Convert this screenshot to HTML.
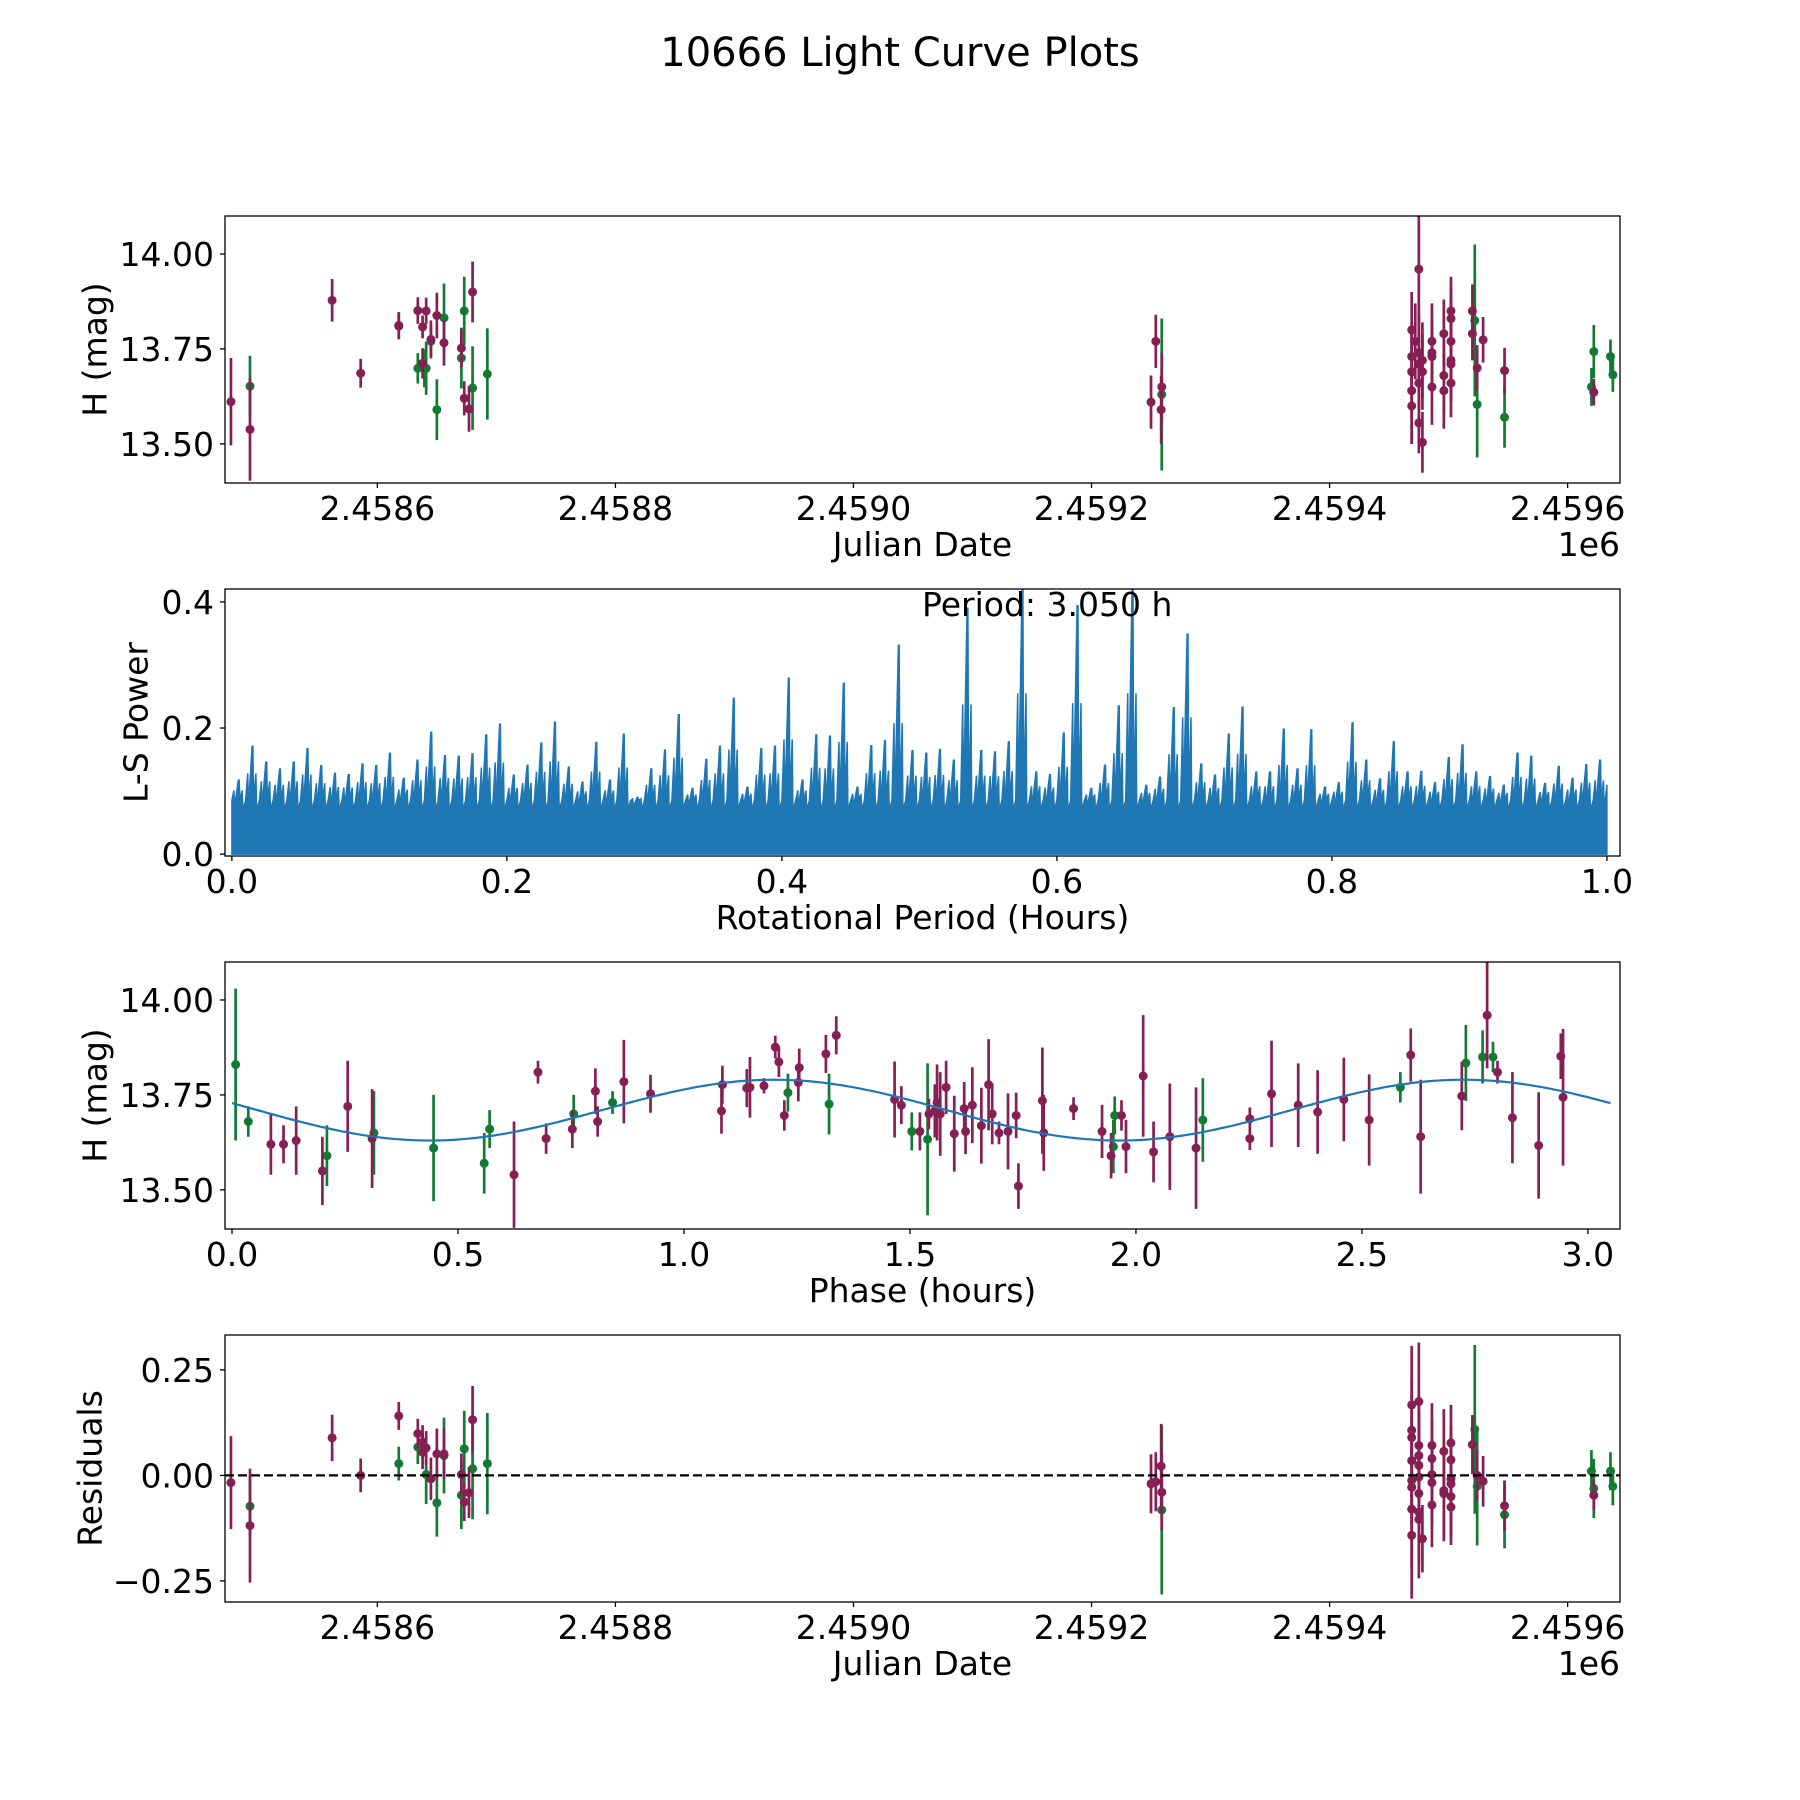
<!DOCTYPE html>
<html><head><meta charset="utf-8"><title>10666 Light Curve Plots</title>
<style>
html,body{margin:0;padding:0;background:#fff}
svg{display:block;font-family:"DejaVu Sans","Liberation Sans",sans-serif}
</style></head>
<body>
<svg id="fig" width="1800" height="1800" viewBox="0 0 1800 1800" xmlns="http://www.w3.org/2000/svg">
<rect x="0" y="0" width="1800" height="1800" fill="#fff"/>
<text x="900" y="66" font-size="40" text-anchor="middle">10666 Light Curve Plots</text>
<g id="p1"></g>
<g id="p2"></g>
<g id="p3"></g>
<g id="p4"></g>
</svg>
<script>
// ---------- DATA ----------
// Panel 1: Julian date offsets (days from 2458600), magnitudes, errors, filter
const lcDays = [-123,-107,-107,-38,-14,18,18,34,34,38,38,39.5,41,41,45,45,50,50,56,56,70.6,70.6,73,73,77,80,80,92.4,
 650,654,658.5,659,659,
 869,869,869,869,869,872,875,875,875,875,875,878,878,878,886,886,886,886,896,896,896,
 902,902,902,902,902,902,920,920,922,924,924,929,947,947,1020,1022,1022,1036,1038];
const lcMag = [13.611,13.652,13.538,13.878,13.686,13.81,13.812,13.851,13.699,13.712,13.808,13.699,13.85,13.699,13.77,13.775,13.59,13.838,13.832,13.766,13.726,13.752,13.85,13.62,13.592,13.647,13.90,13.684,
 13.61,13.77,13.59,13.65,13.63,
 13.80,13.73,13.69,13.64,13.60,13.77,13.96,13.74,13.71,13.66,13.555,13.72,13.69,13.504,13.77,13.74,13.73,13.65,13.79,13.68,13.64,
 13.85,13.83,13.77,13.72,13.71,13.66,13.85,13.79,13.825,13.70,13.604,13.774,13.693,13.57,13.65,13.743,13.636,13.73,13.682];
const lcErr = [0.115,0.08,0.135,0.056,0.038,0.035,0.035,0.035,0.04,0.04,0.03,0.05,0.035,0.07,0.04,0.05,0.08,0.06,0.09,0.06,0.08,0.05,0.09,0.045,0.06,0.11,0.08,0.12,
 0.07,0.07,0.09,0.09,0.2,
 0.1,0.09,0.12,0.14,0.1,0.1,0.14,0.1,0.12,0.13,0.08,0.1,0.1,0.08,0.1,0.09,0.08,0.1,0.09,0.1,0.1,
 0.09,0.08,0.1,0.09,0.1,0.09,0.07,0.07,0.2,0.06,0.14,0.06,0.06,0.08,0.05,0.07,0.035,0.045,0.045];
const lcFilt = "MGMMMGMMGMMGMGGMGMGMGMGMMGMG"+"MMMMG"+"MMMMMMMMMMMMMMMMMMMMM"+"MMMMMMMMGMGMMGGGMGG";

// Panel 2: Lomb-Scargle max power per 0.01 h bin, from 0.00 to 1.00 h
const lsBinPower = [0.117,0.171,0.146,0.135,0.146,0.167,0.14,0.128,0.126,0.143,
 0.14,0.16,0.12,0.149,0.193,0.156,0.155,0.159,0.189,0.206,
 0.125,0.141,0.176,0.209,0.138,0.114,0.177,0.117,0.19,0.09,
 0.135,0.165,0.221,0.104,0.15,0.171,0.247,0.106,0.167,0.171,
 0.279,0.117,0.189,0.187,0.271,0.106,0.172,0.18,0.331,0.164,
 0.16,0.166,0.149,0.39,0.164,0.162,0.178,0.425,0.13,0.126,
 0.192,0.394,0.104,0.141,0.235,0.425,0.109,0.122,0.232,0.349,
 0.143,0.125,0.19,0.233,0.13,0.13,0.198,0.135,0.197,0.106,
 0.113,0.208,0.149,0.119,0.178,0.13,0.131,0.113,0.153,0.173,
 0.13,0.123,0.109,0.16,0.155,0.112,0.139,0.12,0.142,0.149];
const lsFloor = [0.085];
const periodLabel = "Period: 3.050 h";

// Panel 3: phase (h), magnitude, error, filter
const phPhase = [0.008,0.036,0.086,0.114,0.142,0.2,0.21,0.256,0.31,0.314,0.446,0.558,0.57,0.624,0.677,0.695,0.753,0.756,0.804,0.809,0.842,0.867,0.926,
 1.083,1.085,1.139,1.146,1.177,1.202,1.21,1.222,1.23,1.253,1.255,1.314,1.321,1.337,1.466,1.481,1.504,1.522,1.539,1.542,1.555,1.56,1.567,1.58,1.598,
 1.62,1.623,1.638,1.658,1.674,1.682,1.697,1.717,1.735,1.74,1.793,1.796,1.862,1.925,1.945,1.95,1.953,1.968,1.978,2.016,2.039,2.075,2.133,2.148,
 2.252,2.252,2.3,2.359,2.402,2.46,2.516,2.585,2.608,2.63,2.721,2.73,2.767,2.777,2.79,2.8,2.833,2.891,2.94,2.945,2.95];
const phMag = [13.83,13.68,13.62,13.62,13.63,13.55,13.59,13.72,13.635,13.65,13.61,13.57,13.66,13.54,13.81,13.635,13.66,13.70,13.76,13.68,13.73,13.785,13.753,
 13.708,13.777,13.768,13.77,13.774,13.876,13.837,13.696,13.756,13.783,13.822,13.858,13.726,13.907,13.738,13.723,13.654,13.654,13.633,13.70,13.708,13.73,13.70,13.77,13.648,
 13.714,13.654,13.723,13.669,13.777,13.70,13.65,13.654,13.696,13.51,13.735,13.65,13.714,13.654,13.59,13.614,13.696,13.696,13.614,13.80,13.60,13.64,13.61,13.684,
 13.687,13.635,13.753,13.723,13.705,13.738,13.684,13.77,13.855,13.64,13.747,13.834,13.85,13.96,13.85,13.81,13.69,13.617,13.852,13.744,13.81];
const phErr = [0.2,0.04,0.08,0.05,0.09,0.09,0.08,0.12,0.13,0.11,0.14,0.08,0.05,0.14,0.03,0.04,0.05,0.05,0.06,0.04,0.03,0.11,0.05,
 0.06,0.05,0.05,0.08,0.02,0.03,0.04,0.04,0.05,0.05,0.05,0.05,0.08,0.05,0.1,0.05,0.05,0.05,0.2,0.04,0.07,0.1,0.11,0.07,0.1,
 0.07,0.06,0.1,0.1,0.12,0.08,0.03,0.1,0.06,0.06,0.14,0.1,0.03,0.07,0.06,0.07,0.05,0.04,0.07,0.16,0.08,0.14,0.16,0.11,
 0.03,0.03,0.14,0.11,0.11,0.11,0.12,0.04,0.07,0.15,0.09,0.1,0.07,0.14,0.04,0.03,0.12,0.14,0.06,0.18,0.04];
const phFilt = "GGMMMMGMMGGGGMMMMGMMGMM"+"MMMMMMMMGMMMGMMMGMGMMMMMM"+"MMMMMMMMMMMMMMMGGMMMMMMG"+"MMMMMMMGMMMGGMGMMMMM";
// Fitted model: mean, amplitude, peak phase, sub-period, total period
const modelParams = [13.71, 0.08, 1.2, 1.525, 3.05];

// Panel 4: residuals
const resDays = [-123,-107,-107,-38,-14,18,18,34,34,38,38,41,41,45,50,50,56,56,70.6,70.6,73,73,77,80,80,92.4,
 650,654,658.5,659,659,
 869,869,869,869,869,869,869,869,875,875,875,875,875,875,875,875,878,886,886,886,886,886,896,896,896,
 902,902,902,902,902,902,920,922,924,924,929,947,947,1020,1022,1022,1036,1038];
const resVal = [-0.017,-0.073,-0.119,0.089,0.0,0.141,0.028,0.099,0.067,0.079,0.055,0.065,0.002,-0.008,0.051,-0.065,0.051,0.047,0.002,-0.047,0.063,-0.063,-0.041,0.132,0.016,0.028,
 -0.02,-0.015,0.022,-0.04,-0.082,
 0.167,0.107,0.09,0.035,-0.012,-0.028,-0.08,-0.142,0.175,0.071,0.047,0.024,-0.004,-0.043,-0.087,-0.104,-0.15,0.071,0.04,0.002,-0.017,-0.07,0.057,-0.036,-0.043,
 0.077,0.037,-0.008,-0.02,-0.05,-0.075,0.073,0.109,0.0,-0.026,-0.014,-0.072,-0.093,0.01,-0.031,-0.047,0.01,-0.026];
const resErr = [0.11,0.07,0.135,0.055,0.04,0.033,0.04,0.035,0.04,0.04,0.04,0.04,0.07,0.05,0.06,0.08,0.06,0.09,0.05,0.08,0.09,0.045,0.06,0.08,0.12,0.12,
 0.07,0.07,0.1,0.09,0.2,
 0.14,0.12,0.1,0.1,0.1,0.12,0.14,0.15,0.14,0.12,0.1,0.13,0.12,0.1,0.12,0.14,0.08,0.1,0.09,0.08,0.1,0.1,0.1,0.12,0.1,
 0.09,0.08,0.1,0.09,0.1,0.09,0.07,0.2,0.06,0.14,0.06,0.06,0.08,0.05,0.07,0.035,0.045,0.045];
const resFilt = "MGMMMMGMGMMMGMMGMGMGGMMMGG"+"MMMMG"+"MMMMMMMMMMMMMMMMMMMMMMMMM"+"MMMMMMMGMGMMGGGMGG";

const xTicksJD = [0,200,400,600,800,1000];
const xTickLabelsJD = ["2.4586","2.4588","2.4590","2.4592","2.4594","2.4596"];
const yTicksMag = [13.5,13.75,14.0];
const yTickLabelsMag = ["13.50","13.75","14.00"];
const xTicksLS = [0,0.2,0.4,0.6,0.8,1.0];
const xTickLabelsLS = ["0.0","0.2","0.4","0.6","0.8","1.0"];
const yTicksLS = [0,0.2,0.4];
const yTickLabelsLS = ["0.0","0.2","0.4"];
const xTicksPh = [0,0.5,1,1.5,2,2.5,3];
const xTickLabelsPh = ["0.0","0.5","1.0","1.5","2.0","2.5","3.0"];
const yTicksRes = [-0.25,0,0.25];
const yTickLabelsRes = ["\u22120.25","0.00","0.25"];

// ---------- DRAW ----------
const NS = "http://www.w3.org/2000/svg";
const COL = {M:"#861f53", G:"#137a34"};
const L = 225, R = 1620, H = 267;
const FS = 33;
function mk(tag, attrs, parent){
  const e = document.createElementNS(NS, tag);
  for (const k in attrs) e.setAttribute(k, attrs[k]);
  parent.appendChild(e); return e;
}
function axisFns(top, x0, x1, y0, y1){
  return {
    sx: v => L + (v - x0) / (x1 - x0) * (R - L),
    sy: v => top + H - (v - y0) / (y1 - y0) * H
  };
}
function frame(g, top, f, xt, xtl, yt, ytl, xlabel, ylabel, ylabelX, offsetText){
  for (let i = 0; i < xt.length; i++){
    const x = f.sx(xt[i]);
    const t = mk("line", {x1:x, x2:x, y1:top+H, y2:top+H+5, stroke:"#000", "stroke-width":1.3}, g);
    
    
    const lb = mk("text", {x:x, y:top+H+37, "font-size":FS, "text-anchor":"middle"}, g);
    lb.textContent = xtl[i];
    
    
  }
  for (let i = 0; i < yt.length; i++){
    const y = f.sy(yt[i]);
    const t = mk("line", {x1:L-5, x2:L, y1:y, y2:y, stroke:"#000", "stroke-width":1.3}, g);
    
    
    const lb = mk("text", {x:L-11, y:y+12, "font-size":FS, "text-anchor":"end"}, g);
    lb.textContent = ytl[i];
    
    
  }
  const xl = mk("text", {x:(L+R)/2, y:top+H+73, "font-size":FS, "text-anchor":"middle"}, g);
  xl.textContent = xlabel;
  
  
  const yc = top + H/2;
  const yl = mk("text", {x:ylabelX, y:yc, "font-size":FS, "text-anchor":"middle", "dominant-baseline":"central", transform:`rotate(-90 ${ylabelX} ${yc})`}, g);
  yl.textContent = ylabel;
  
  
  if (offsetText){
    const ot = mk("text", {x:R, y:top+H+73, "font-size":FS, "text-anchor":"end"}, g);
    ot.textContent = offsetText;
    
    
  }
  const bx = mk("rect", {x:L, y:top, width:R-L, height:H, fill:"none", stroke:"#000", "stroke-width":1.3}, g);
  
  
}
function clip(id, top){
  const d = mk("clipPath", {id:id}, document.getElementById("fig"));
  mk("rect", {x:L, y:top, width:R-L, height:H}, d);
}
function errPoints(g, f, xs, ys, es, fl, name){
  ["G","M"].forEach(c => {
    for (let i = 0; i < xs.length; i++){
      if (fl[i] !== c) continue;
      const x = f.sx(xs[i]);
      const b = mk("line", {x1:x, x2:x, y1:f.sy(ys[i]-es[i]), y2:f.sy(ys[i]+es[i]), stroke:COL[c], "stroke-width":2.7}, g);
      
      
      const p = mk("circle", {cx:x, cy:f.sy(ys[i]), r:4.5, fill:COL[c]}, g);
      
      
    }
  });
}

// Panel 1
(function(){
  const top = 216, g = document.getElementById("p1");
  const f = axisFns(top, -128, 1044, 13.397, 14.1);
  clip("c1", top);
  const d = mk("g", {"clip-path":"url(#c1)"}, g);
  errPoints(d, f, lcDays, lcMag, lcErr, lcFilt, "magnitude");
  frame(g, top, f, xTicksJD, xTickLabelsJD, yTicksMag, yTickLabelsMag, "Julian Date", "H (mag)", 95, "1e6");
})();

// Panel 2
(function(){
  const top = 589, g = document.getElementById("p2");
  const f = axisFns(top, -0.005, 1.0095, -0.003, 0.4205);
  clip("c2", top);
  const d = mk("g", {"clip-path":"url(#c2)"}, g);
  const w = 1 / lsBinPower.length;
  const fl = lsFloor[0];
  let pts = [[f.sx(0), f.sy(0)]];
  for (let i = 0; i < lsBinPower.length; i++){
    const a = i * w, c = a + w/2, p = lsBinPower[i];
    pts.push([f.sx(a), f.sy(fl)]);
    pts.push([f.sx(a + 0.0015), f.sy((p + fl) / 2)]);
    pts.push([f.sx(a + 0.002), f.sy(fl - 0.01)]);
    pts.push([f.sx(c - 0.0003), f.sy(p)]);
    pts.push([f.sx(c + 0.0003), f.sy(p)]);
    pts.push([f.sx(c + 0.0008), f.sy(fl)]);
    pts.push([f.sx(c + 0.0025), f.sy((p + fl) / 2)]);
    pts.push([f.sx(c + 0.003), f.sy(fl - 0.015)]);
  }
  pts.push([f.sx(1), f.sy(0.11)]);
  pts.push([f.sx(1), f.sy(0)]);
  const poly = mk("polygon", {points: pts.map(p => p[0].toFixed(1)+","+p[1].toFixed(1)).join(" "), fill:"#1f77b4", stroke:"#1f77b4", "stroke-width":1.5, "stroke-linejoin":"miter"}, d);
  
  
  const t = mk("text", {x:922, y:616, "font-size":FS}, g);
  t.textContent = periodLabel;
  
  
  frame(g, top, f, xTicksLS, xTickLabelsLS, yTicksLS, yTickLabelsLS, "Rotational Period (Hours)", "L-S Power", 136, null);
})();

// Panel 3
(function(){
  const top = 962, g = document.getElementById("p3");
  const f = axisFns(top, -0.0155, 3.071, 13.397, 14.1);
  clip("c3", top);
  const d = mk("g", {"clip-path":"url(#c3)"}, g);
  errPoints(d, f, phPhase, phMag, phErr, phFilt, "phase");
  const [m, a, pk, sp, tot] = modelParams;
  let s = "";
  for (let i = 0; i <= 300; i++){
    const t = tot * i / 300;
    const v = m + a * Math.cos(2 * Math.PI * (t - pk) / sp);
    s += (i ? "L" : "M") + f.sx(t).toFixed(1) + "," + f.sy(v).toFixed(1);
  }
  const ln = mk("path", {d:s, fill:"none", stroke:"#1f77b4", "stroke-width":2.2}, d);
  
  
  frame(g, top, f, xTicksPh, xTickLabelsPh, yTicksMag, yTickLabelsMag, "Phase (hours)", "H (mag)", 95, null);
})();

// Panel 4
(function(){
  const top = 1335, g = document.getElementById("p4");
  const f = axisFns(top, -128, 1044, -0.3, 0.3327);
  clip("c4", top);
  const d = mk("g", {"clip-path":"url(#c4)"}, g);
  errPoints(d, f, resDays, resVal, resErr, resFilt, "residual");
  const z = mk("line", {x1:L, x2:R, y1:f.sy(0), y2:f.sy(0), stroke:"#000", "stroke-width":2.2, "stroke-dasharray":"9,4"}, d);
  
  
  frame(g, top, f, xTicksJD, xTickLabelsJD, yTicksRes, yTickLabelsRes, "Julian Date", "Residuals", 90, "1e6");
})();
</script>
</body></html>
